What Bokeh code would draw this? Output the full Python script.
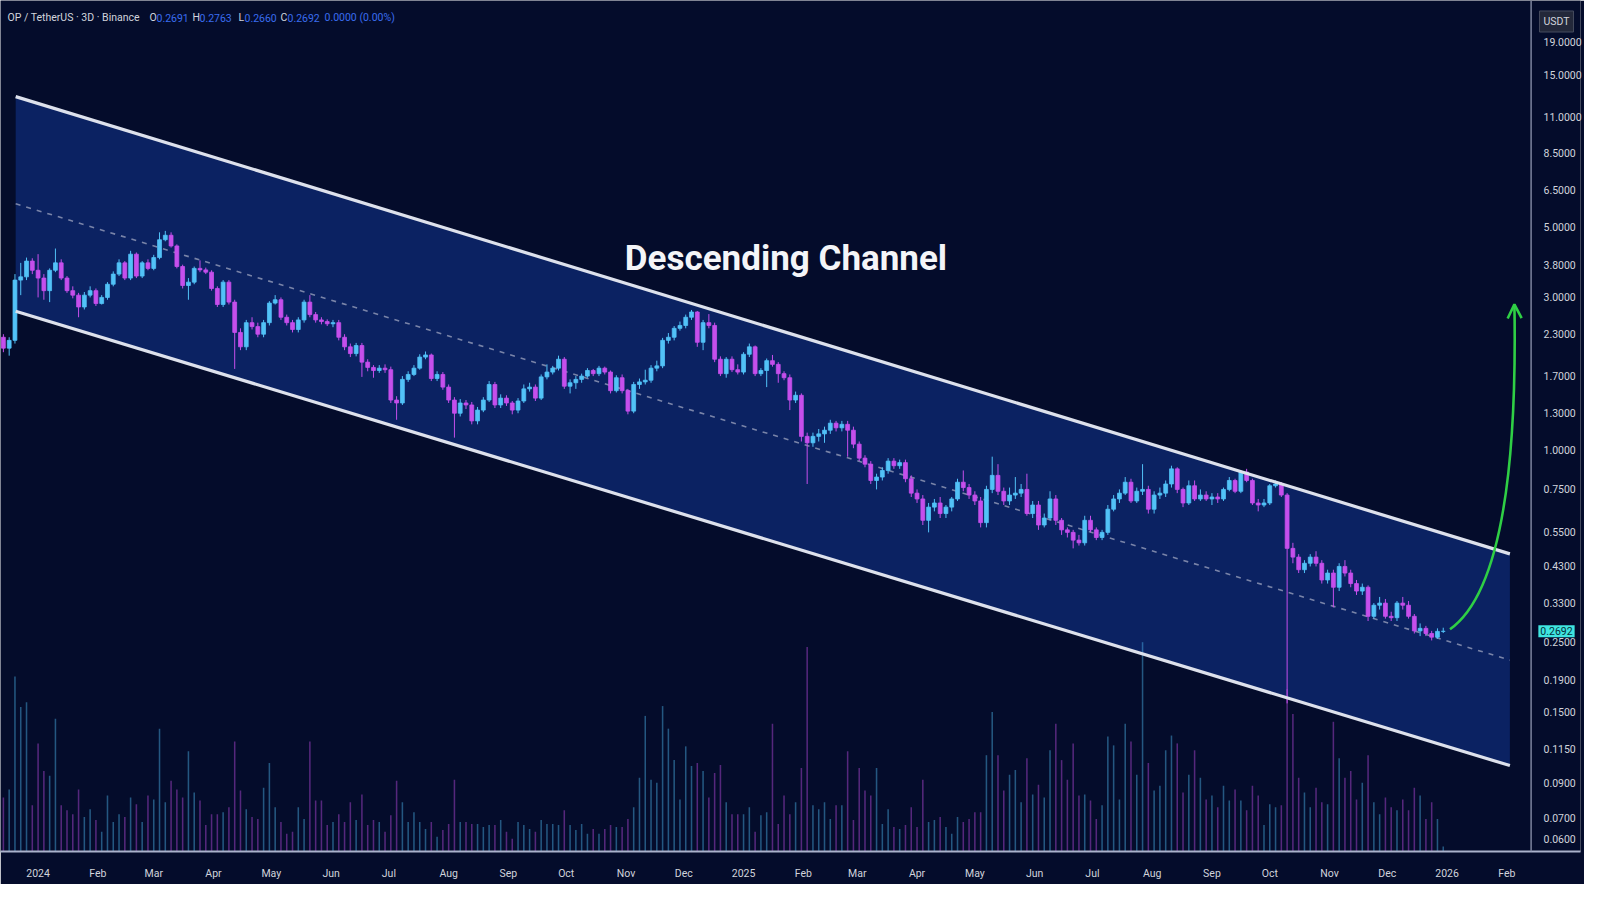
import pandas as pd
from bokeh.plotting import figure
from bokeh.models import (ColumnDataSource, Range1d, LinearScale, FixedTicker,
                          NumeralTickFormatter, Label, Arrow, OpenHead, Span)
from bokeh.embed import file_html
from bokeh.resources import INLINE

# ---------------- data ----------------
first_candle_open = "2023-12-14"
candle_days = 3

opens = [
    2.25, 2.08, 2.20, 3.40, 3.48, 3.90, 3.65, 3.45, 3.15, 3.65,
    3.85, 3.45, 3.15, 3.05, 2.80, 3.05, 3.15, 2.87, 3.00, 3.30,
    3.55, 3.85, 3.45, 4.10, 3.50, 3.85, 3.70, 4.00, 4.55, 4.70,
    4.35, 3.75, 3.27, 3.35, 3.70, 3.66, 3.60, 3.20, 2.85, 3.35,
    2.90, 2.33, 2.10, 2.50, 2.43, 2.30, 2.50, 2.88, 2.95, 2.60,
    2.50, 2.38, 2.55, 2.90, 2.65, 2.55, 2.52, 2.48, 2.50, 2.25,
    2.10, 2.00, 2.12, 1.88, 1.81, 1.77, 1.80, 1.78, 1.43, 1.40,
    1.66, 1.72, 1.80, 1.95, 1.98, 1.67, 1.72, 1.57, 1.43, 1.30,
    1.40, 1.38, 1.23, 1.33, 1.43, 1.60, 1.38, 1.45, 1.40, 1.33,
    1.42, 1.55, 1.57, 1.45, 1.69, 1.75, 1.80, 1.92, 1.58, 1.62,
    1.66, 1.70, 1.77, 1.73, 1.80, 1.75, 1.53, 1.68, 1.53, 1.32,
    1.60, 1.63, 1.65, 1.80, 1.83, 2.20, 2.25, 2.40, 2.45, 2.60,
    2.70, 2.17, 2.50, 2.45, 1.92, 1.73, 1.92, 1.78, 1.75, 1.99,
    2.10, 1.73, 1.77, 1.90, 1.85, 1.73, 1.68, 1.43, 1.48, 1.10,
    1.05, 1.10, 1.12, 1.15, 1.21, 1.17, 1.20, 1.15, 1.04, 0.94,
    0.90, 0.80, 0.82, 0.86, 0.92, 0.89, 0.91, 0.81, 0.73, 0.70,
    0.60, 0.66, 0.68, 0.63, 0.66, 0.70, 0.79, 0.76, 0.72, 0.69,
    0.59, 0.75, 0.83, 0.74, 0.69, 0.72, 0.73, 0.75, 0.63, 0.67,
    0.58, 0.61, 0.70, 0.60, 0.56, 0.55, 0.52, 0.51, 0.60, 0.56,
    0.53, 0.55, 0.65, 0.70, 0.73, 0.79, 0.69, 0.74, 0.75, 0.65,
    0.72, 0.73, 0.78, 0.87, 0.75, 0.68, 0.77, 0.70, 0.72, 0.70,
    0.71, 0.70, 0.75, 0.80, 0.74, 0.85, 0.80, 0.68, 0.67, 0.68,
    0.77, 0.78, 0.72, 0.49, 0.46, 0.42, 0.44, 0.46, 0.44, 0.39,
    0.41, 0.37, 0.43, 0.41, 0.38, 0.36, 0.37, 0.30, 0.325, 0.33,
    0.30, 0.297, 0.33, 0.325, 0.30, 0.27, 0.275, 0.265, 0.258, 0.2691,
]
closes = [
    2.08, 2.20, 3.40, 3.48, 3.90, 3.65, 3.45, 3.15, 3.65, 3.85,
    3.45, 3.15, 3.05, 2.80, 3.05, 3.15, 2.87, 3.00, 3.30, 3.55,
    3.85, 3.45, 4.10, 3.50, 3.85, 3.70, 4.00, 4.55, 4.70, 4.35,
    3.75, 3.27, 3.35, 3.70, 3.66, 3.60, 3.20, 2.85, 3.35, 2.90,
    2.33, 2.10, 2.50, 2.43, 2.30, 2.50, 2.88, 2.95, 2.60, 2.50,
    2.38, 2.55, 2.90, 2.65, 2.55, 2.52, 2.48, 2.50, 2.25, 2.10,
    2.00, 2.12, 1.88, 1.81, 1.77, 1.80, 1.78, 1.43, 1.40, 1.66,
    1.72, 1.80, 1.95, 1.98, 1.67, 1.72, 1.57, 1.43, 1.30, 1.40,
    1.38, 1.23, 1.33, 1.43, 1.60, 1.38, 1.45, 1.40, 1.33, 1.42,
    1.55, 1.57, 1.45, 1.69, 1.75, 1.80, 1.92, 1.58, 1.62, 1.66,
    1.70, 1.77, 1.73, 1.80, 1.75, 1.53, 1.68, 1.53, 1.32, 1.60,
    1.63, 1.65, 1.80, 1.83, 2.20, 2.25, 2.40, 2.45, 2.60, 2.70,
    2.17, 2.50, 2.45, 1.92, 1.73, 1.92, 1.78, 1.75, 1.99, 2.10,
    1.73, 1.77, 1.90, 1.85, 1.73, 1.68, 1.43, 1.48, 1.10, 1.05,
    1.10, 1.12, 1.15, 1.21, 1.17, 1.20, 1.15, 1.04, 0.94, 0.90,
    0.80, 0.82, 0.86, 0.92, 0.89, 0.91, 0.81, 0.73, 0.70, 0.60,
    0.66, 0.68, 0.63, 0.66, 0.70, 0.79, 0.76, 0.72, 0.69, 0.59,
    0.75, 0.83, 0.74, 0.69, 0.72, 0.73, 0.75, 0.63, 0.67, 0.58,
    0.61, 0.70, 0.60, 0.56, 0.55, 0.52, 0.51, 0.60, 0.56, 0.53,
    0.55, 0.65, 0.70, 0.73, 0.79, 0.69, 0.74, 0.75, 0.65, 0.72,
    0.73, 0.78, 0.87, 0.75, 0.68, 0.77, 0.70, 0.72, 0.70, 0.71,
    0.70, 0.75, 0.80, 0.74, 0.85, 0.80, 0.68, 0.67, 0.68, 0.77,
    0.78, 0.72, 0.49, 0.46, 0.42, 0.44, 0.46, 0.44, 0.39, 0.41,
    0.37, 0.43, 0.41, 0.38, 0.36, 0.37, 0.30, 0.325, 0.33, 0.30,
    0.297, 0.33, 0.325, 0.30, 0.27, 0.275, 0.265, 0.258, 0.2691, 0.2692,
]
highs = [
    2.30, 2.25, 3.55, 3.85, 4.00, 3.98, 4.10, 3.55, 3.70, 4.27,
    3.95, 3.50, 3.25, 3.10, 3.12, 3.25, 3.20, 3.05, 3.35, 3.62,
    3.95, 3.90, 4.20, 4.15, 3.90, 3.95, 4.08, 4.80, 4.85, 4.80,
    4.40, 3.80, 3.45, 3.75, 3.92, 3.72, 3.65, 3.25, 3.40, 3.40,
    2.95, 2.40, 2.55, 2.60, 2.50, 2.55, 2.92, 3.05, 3.00, 2.65,
    2.55, 2.60, 2.95, 3.05, 2.70, 2.60, 2.56, 2.55, 2.55, 2.30,
    2.15, 2.16, 2.16, 1.92, 1.84, 1.84, 1.85, 1.82, 1.47, 1.70,
    1.76, 1.84, 1.99, 2.03, 2.00, 1.76, 1.75, 1.60, 1.46, 1.44,
    1.43, 1.41, 1.36, 1.46, 1.64, 1.63, 1.49, 1.48, 1.42, 1.45,
    1.60, 1.62, 1.60, 1.72, 1.85, 1.83, 1.97, 1.95, 1.66, 1.70,
    1.73, 1.80, 1.79, 1.83, 1.82, 1.77, 1.71, 1.72, 1.55, 1.63,
    1.67, 1.78, 1.84, 1.90, 2.24, 2.32, 2.44, 2.52, 2.65, 2.74,
    2.72, 2.55, 2.66, 2.50, 1.96, 1.95, 1.96, 1.85, 2.02, 2.15,
    2.12, 1.80, 1.93, 1.98, 1.88, 1.76, 1.72, 1.52, 1.50, 1.13,
    1.13, 1.16, 1.18, 1.24, 1.23, 1.23, 1.23, 1.18, 1.06, 0.96,
    0.92, 0.84, 0.88, 0.94, 0.94, 0.93, 0.93, 0.83, 0.75, 0.72,
    0.68, 0.70, 0.71, 0.67, 0.71, 0.81, 0.86, 0.78, 0.74, 0.71,
    0.77, 0.95, 0.90, 0.76, 0.76, 0.82, 0.78, 0.84, 0.69, 0.69,
    0.63, 0.74, 0.72, 0.61, 0.57, 0.56, 0.54, 0.62, 0.62, 0.57,
    0.56, 0.67, 0.72, 0.75, 0.82, 0.81, 0.76, 0.90, 0.77, 0.74,
    0.76, 0.80, 0.89, 0.88, 0.76, 0.80, 0.80, 0.75, 0.74, 0.73,
    0.73, 0.76, 0.82, 0.81, 0.86, 0.87, 0.81, 0.70, 0.70, 0.78,
    0.80, 0.79, 0.73, 0.51, 0.47, 0.45, 0.47, 0.48, 0.45, 0.42,
    0.42, 0.44, 0.45, 0.42, 0.39, 0.38, 0.375, 0.33, 0.345, 0.34,
    0.31, 0.335, 0.345, 0.335, 0.305, 0.285, 0.28, 0.27, 0.275, 0.2763,
]
lows = [
    2.02, 1.97, 2.15, 3.05, 3.40, 3.55, 3.00, 2.95, 2.90, 3.60,
    3.40, 3.10, 2.98, 2.60, 2.75, 3.00, 2.82, 2.85, 2.95, 3.25,
    3.50, 3.40, 3.40, 3.45, 3.45, 3.65, 3.65, 3.95, 4.50, 4.30,
    3.70, 3.20, 2.95, 3.30, 3.60, 3.55, 3.15, 2.80, 2.80, 2.85,
    1.79, 2.05, 2.05, 2.38, 2.25, 2.25, 2.45, 2.85, 2.55, 2.45,
    2.33, 2.33, 2.50, 2.60, 2.50, 2.47, 2.44, 2.42, 2.20, 2.05,
    1.95, 1.96, 1.69, 1.76, 1.68, 1.74, 1.74, 1.40, 1.24, 1.38,
    1.63, 1.70, 1.78, 1.92, 1.64, 1.64, 1.54, 1.40, 1.09, 1.27,
    1.34, 1.20, 1.20, 1.31, 1.41, 1.35, 1.35, 1.37, 1.29, 1.30,
    1.40, 1.52, 1.42, 1.43, 1.66, 1.72, 1.77, 1.55, 1.50, 1.55,
    1.62, 1.68, 1.70, 1.70, 1.72, 1.50, 1.51, 1.50, 1.29, 1.30,
    1.55, 1.60, 1.62, 1.76, 1.80, 2.15, 2.20, 2.36, 2.40, 2.55,
    2.10, 2.05, 2.40, 1.88, 1.70, 1.68, 1.75, 1.72, 1.72, 1.95,
    1.70, 1.70, 1.57, 1.82, 1.62, 1.65, 1.33, 1.40, 1.06, 0.78,
    1.02, 1.06, 1.05, 1.12, 1.14, 1.14, 0.95, 1.01, 0.92, 0.88,
    0.78, 0.75, 0.80, 0.84, 0.87, 0.87, 0.79, 0.71, 0.68, 0.58,
    0.55, 0.64, 0.61, 0.61, 0.64, 0.69, 0.74, 0.70, 0.67, 0.57,
    0.57, 0.73, 0.72, 0.67, 0.67, 0.70, 0.71, 0.62, 0.61, 0.56,
    0.57, 0.60, 0.58, 0.54, 0.53, 0.49, 0.50, 0.50, 0.55, 0.52,
    0.52, 0.54, 0.64, 0.68, 0.72, 0.68, 0.68, 0.72, 0.63, 0.63,
    0.70, 0.71, 0.76, 0.73, 0.66, 0.67, 0.69, 0.69, 0.69, 0.67,
    0.68, 0.69, 0.74, 0.73, 0.73, 0.79, 0.67, 0.64, 0.66, 0.67,
    0.76, 0.71, 0.16, 0.44, 0.41, 0.41, 0.43, 0.43, 0.38, 0.38,
    0.32, 0.36, 0.40, 0.37, 0.35, 0.35, 0.29, 0.295, 0.315, 0.295,
    0.29, 0.29, 0.315, 0.295, 0.265, 0.26, 0.26, 0.252, 0.255, 0.2660,
]
volumes = [
    55, 63, 178, 147, 152, 47, 110, 82, 77, 135,
    47, 42, 38, 63, 35, 43, 32, 20, 57, 30,
    38, 35, 55, 48, 30, 57, 53, 125, 50, 72,
    63, 55, 102, 60, 52, 27, 38, 38, 40, 45,
    112, 62, 43, 35, 33, 65, 90, 45, 30, 18,
    20, 45, 33, 112, 52, 52, 27, 30, 38, 30,
    50, 32, 58, 27, 32, 30, 20, 37, 72, 50,
    30, 40, 30, 23, 30, 15, 22, 28, 73, 30,
    30, 28, 28, 25, 27, 27, 32, 20, 13, 30,
    27, 23, 20, 32, 28, 28, 27, 42, 27, 22,
    28, 18, 23, 18, 23, 27, 25, 25, 33, 45,
    75, 138, 73, 70, 148, 125, 93, 53, 107, 87,
    90, 82, 55, 80, 88, 50, 38, 38, 38, 45,
    20, 37, 40, 130, 28,
    57, 38, 50, 85, 208, 47, 43, 50, 33, 47,
    47, 102, 32, 85, 62, 57, 85, 28, 43, 25,
    23, 27, 45, 25, 73, 30, 32, 35, 25, 18,
    35, 30, 33, 40, 40, 98, 142, 98, 62, 78,
    83, 50, 95, 58, 68, 55, 103, 130, 93, 73,
    110, 57, 58, 52, 33, 47, 117, 108, 53, 130,
    112, 78, 213, 90, 62, 67, 103, 118, 110, 60,
    78, 103, 75, 53, 57, 45, 67, 52, 63, 52,
    42, 67, 57, 27, 48, 45, 47, 165, 140, 75,
    60, 45, 65, 50, 48, 132, 95, 75, 82, 53,
    70, 98, 50, 38, 55, 45, 42, 53, 42, 65,
    57, 33, 50, 33, 5,
]

price_ticks = [0.06, 0.07, 0.09, 0.115, 0.15, 0.19, 0.25, 0.33, 0.43, 0.55,
               0.75, 1.0, 1.3, 1.7, 2.3, 3.0, 3.8, 5.0, 6.5, 8.5, 11.0, 15.0, 19.0]
first_month_tick = "2024-01-01"
month_labels = ["2024", "Feb", "Mar", "Apr", "May", "Jun", "Jul", "Aug", "Sep", "Oct",
                "Nov", "Dec", "2025", "Feb", "Mar", "Apr", "May", "Jun", "Jul", "Aug",
                "Sep", "Oct", "Nov", "Dec", "2026", "Feb"]

# descending channel trend-line anchors
channel_dates = ["2023-12-20 09:00", "2026-02-02 14:00"]
channel_upper = [12.79, 0.4709]
channel_lower = [2.716, 0.1021]
channel_mid = [5.90, 0.2186]

# projected breakout arrow: start, control, tip
arrow_dates = ["2026-01-02 12:00", "2026-02-07 10:00", "2026-02-04 22:00"]
arrow_prices = [0.2732, 0.3896, 2.854]

# ---------------- styling ----------------
BG = "#040c2b"
CH_FILL = "#0b2262"
UP = "#52c2f7"
DOWN = "#c54fec"
TXT = "#d1d4dc"
GREEN = "#2fcf45"
FONT = "Roboto"
AXIS_DATE = "2026-02-13 14:00"   # where the price scale starts


def ms(s):
    return pd.Timestamp(s).value / 1e6


DAY = 86400000.0
times = pd.date_range(first_candle_open, periods=len(closes), freq=f"{candle_days}D")
up = [c >= o for o, c in zip(opens, closes)]
colors = [UP if u else DOWN for u in up]

src = ColumnDataSource(dict(
    t=times, o=opens, h=highs, l=lows, c=closes, vol=volumes, color=colors,
    top=[max(o, c) for o, c in zip(opens, closes)],
    bot=[min(o, c) for o, c in zip(opens, closes)],
))

p = figure(width=1584, height=884, x_axis_type="datetime", y_axis_type="log",
           y_axis_location="right",
           x_range=Range1d(ms("2023-12-12 12:00"), ms("2026-03-11 05:00")),
           y_range=Range1d(0.0549, 25.6),
           output_backend="svg", toolbar_location=None,
           background_fill_color=BG, border_fill_color=BG,
           min_border_left=0, min_border_top=0, min_border_right=0, min_border_bottom=33)
p.outline_line_color = None
p.grid.visible = False
p.extra_y_ranges = {"vol": Range1d(0, 866)}
p.extra_y_scales = {"vol": LinearScale()}

# channel fill
cx = [ms(channel_dates[0]), ms(channel_dates[1]), ms(channel_dates[1]), ms(channel_dates[0])]
cy = [channel_upper[0], channel_upper[1], channel_lower[1], channel_lower[0]]
p.patch(cx, cy, fill_color=CH_FILL, line_color=None)

# volume
p.vbar(x="t", top="vol", bottom=0, width=0.8 * DAY, fill_color="color", fill_alpha=0.42,
       line_color=None, y_range_name="vol", source=src)

# mid dashed line
p.line([ms(d) for d in channel_dates], channel_mid, line_color="#8d95b5", line_width=1.6,
       line_dash="5 6", line_alpha=0.85)

# candles
p.segment(x0="t", y0="l", x1="t", y1="h", line_color="color", line_width=1, source=src)
p.vbar(x="t", top="top", bottom="bot", width=2.0 * DAY, fill_color="color",
       line_color="color", line_width=0.8, source=src)

# channel borders
for ys in (channel_upper, channel_lower):
    p.line([ms(d) for d in channel_dates], ys, line_color="#dde1ec", line_width=3.2)

# green arrow
p.quadratic(x0=[ms(arrow_dates[0])], y0=[arrow_prices[0]],
            x1=[ms(arrow_dates[2])], y1=[arrow_prices[2]],
            cx=[ms(arrow_dates[1])], cy=[arrow_prices[1]],
            line_color=GREEN, line_width=2.6)
p.add_layout(Arrow(end=OpenHead(size=14, line_color=GREEN, line_width=2.6),
                   x_start=ms(arrow_dates[1]), y_start=arrow_prices[1],
                   x_end=ms(arrow_dates[2]), y_end=arrow_prices[2],
                   line_alpha=0.0))

# price-scale border
p.add_layout(Span(location=ms(AXIS_DATE), dimension="height", line_color="#7d849e",
                  line_width=1.5))

# axes
ya = p.yaxis[0]
ya.ticker = FixedTicker(ticks=price_ticks)
ya.formatter = NumeralTickFormatter(format="0.0000")
ya.major_tick_line_color = None
ya.minor_tick_line_color = None
ya.axis_line_color = None
ya.major_label_text_color = TXT
ya.major_label_text_font = FONT
ya.major_label_text_font_size = "10.5px"
ya.major_label_standoff = -43

month_ticks = [ms(t) for t in pd.date_range(first_month_tick, periods=len(month_labels), freq="MS")]
xa = p.xaxis[0]
xa.ticker = FixedTicker(ticks=month_ticks)
xa.major_label_overrides = {t: lab for t, lab in zip(month_ticks, month_labels)}
xa.major_tick_line_color = None
xa.minor_tick_line_color = None
xa.axis_line_color = "#aab2cc"
xa.axis_line_width = 2
xa.major_label_text_color = TXT
xa.major_label_text_font = FONT
xa.major_label_text_font_size = "10.5px"
xa.major_label_standoff = 9

# annotations
p.add_layout(Label(x=ms("2025-01-23"), y=3.96, text="Descending Channel",
                   text_align="center", text_baseline="middle", text_color="#f4f5f8",
                   text_font=FONT, text_font_style="bold", text_font_size="35px"))

FH = 851
legend_parts = [
    (7, "OP / TetherUS · 3D · Binance", TXT),
    (149, "O", TXT), (156, "0.2691", "#3a6df0"),
    (192, "H", TXT), (199, "0.2763", "#3a6df0"),
    (238, "L", TXT), (244, "0.2660", "#3a6df0"),
    (280, "C", TXT), (287, "0.2692", "#3a6df0"),
    (324, "0.0000 (0.00%)", "#3a6df0"),
]
for x, txt, col in legend_parts:
    p.add_layout(Label(x=x, y=FH - 17, x_units="screen", y_units="screen", text=txt,
                       text_color=col, text_font=FONT, text_font_size="10.5px",
                       text_baseline="middle"))

p.add_layout(Label(x=1556, y=FH - 21, x_units="screen", y_units="screen", text="USDT",
                   text_align="center", text_baseline="middle", text_color=TXT,
                   text_font=FONT, text_font_size="10.5px",
                   background_fill_color="#23283a", border_line_color="#454b5e",
                   padding=4))
p.add_layout(Label(x=1556, y=closes[-1], x_units="screen", y_units="data", text="0.2692",
                   text_align="center", text_baseline="middle", text_color="#05303a",
                   text_font=FONT, text_font_size="10.5px",
                   background_fill_color="#3fe6e0", padding=2))

open("out.html", "w").write(file_html(p, INLINE))
